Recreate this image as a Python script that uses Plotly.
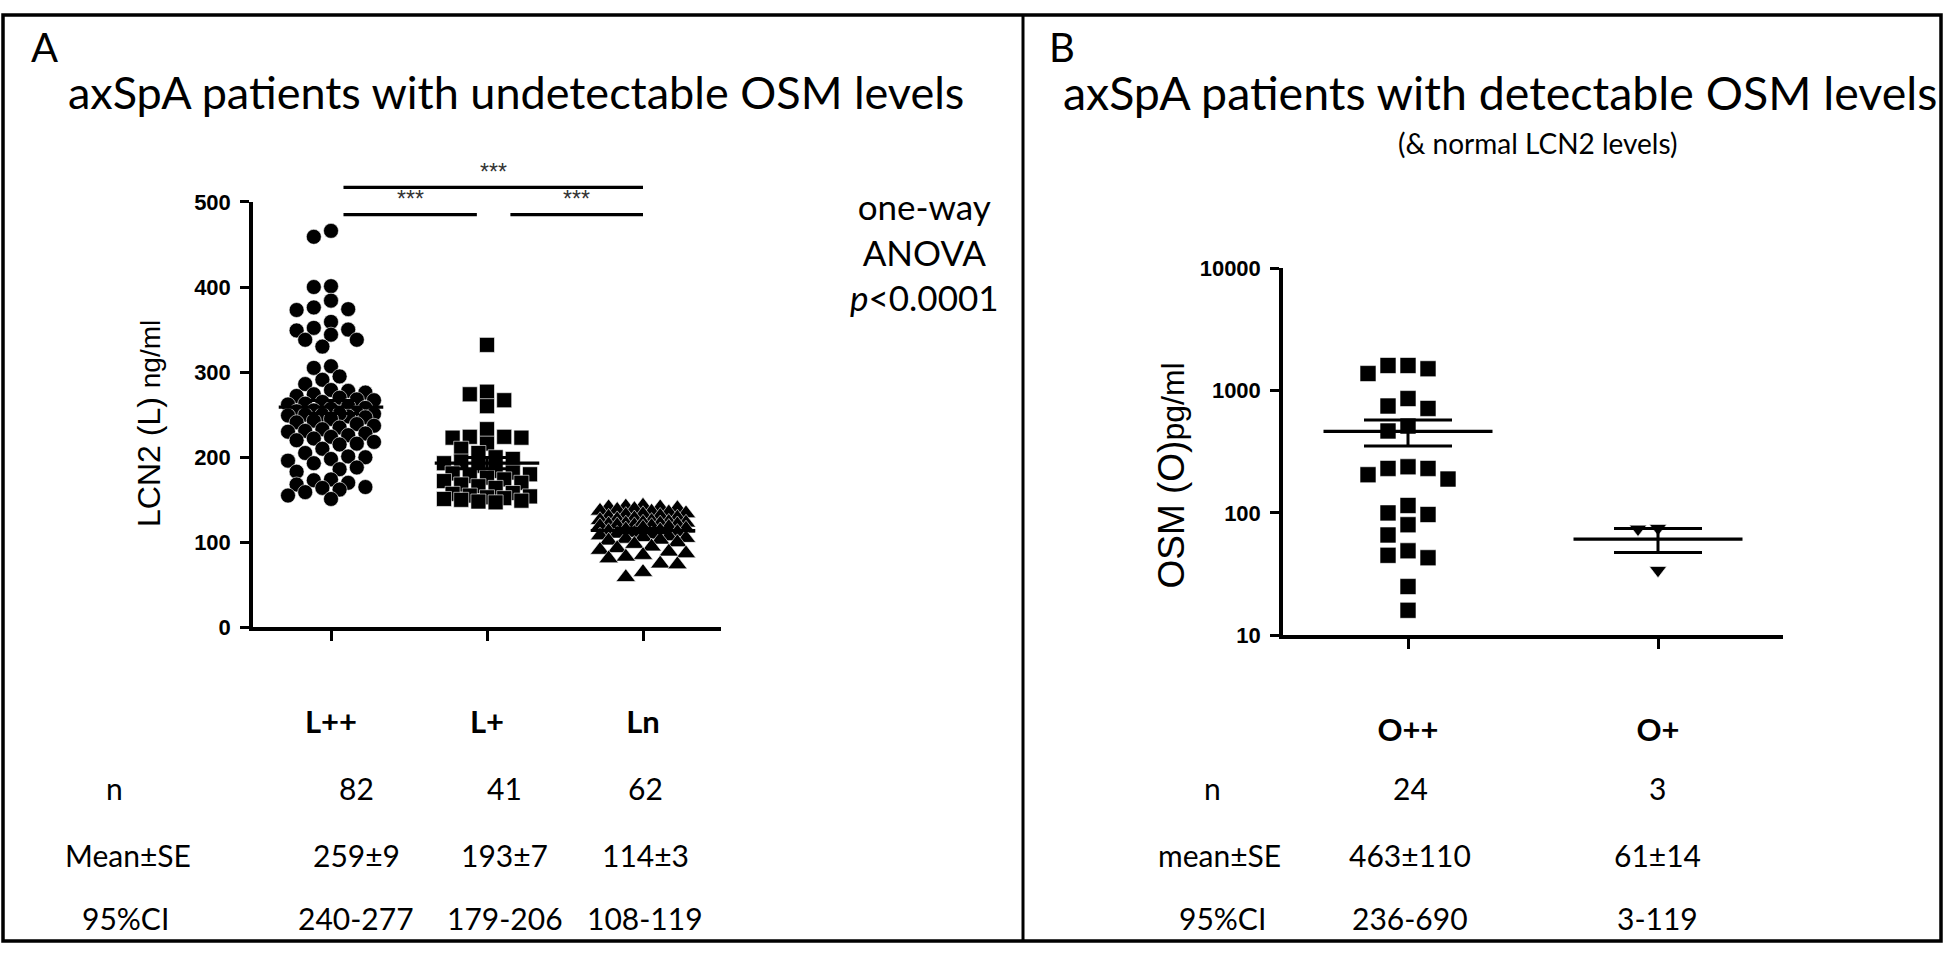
import numpy as np
import plotly.graph_objects as go

W, H = 1946, 957

# ---------------- data: panel A (LCN2, ng/ml) ----------------
cats_A = ["L++", "L+", "Ln"]
lcn2_Lpp = [466, 459, 401, 400, 384, 376, 374, 373, 359, 352, 350, 349, 344, 338, 338, 330,
            307, 305, 295, 291, 286, 279,
            278, 276, 274, 272, 270, 268, 267, 265, 263, 262, 260, 258, 257, 255, 254, 252,
            251, 250, 250, 248,
            251, 249, 247, 245, 243, 241, 239, 237, 235, 233, 231, 230, 228, 226, 224, 222,
            220, 218, 216, 215,
            210, 205, 201, 200, 198, 196, 193, 188, 186, 183, 174, 173, 170, 168, 165, 164,
            162, 159, 155, 151]
lcn2_Lp = [332, 277, 274, 267, 260, 233, 224, 224, 223, 223,
           216, 210, 205, 200, 198, 195, 193, 190, 184, 181,
           182, 180, 178, 176, 174, 172, 170, 168, 166, 164,
           158, 157, 155, 154, 153, 152, 151, 150, 149, 148, 147]
lcn2_Ln = [143, 142, 141, 141, 140, 139, 138, 137, 136, 135, 134, 133, 132, 131, 130, 129,
           128, 127, 126, 125, 124, 123, 122, 121, 120, 119,
           123, 122, 121, 120, 119, 118, 117, 116, 115, 114, 113, 112, 111, 110, 109, 108,
           107, 106, 105, 104, 103, 102,
           100, 98, 95, 93, 91, 89, 87, 85, 83, 81, 75, 74, 65, 59]
yticks_A = [0, 100, 200, 300, 400, 500]
row_labels_A = ["n", "Mean±SE", "95%CI"]
n_A = ["82", "41", "62"]
meanse_A = ["259±9", "193±7", "114±3"]
ci_A = ["240-277", "179-206", "108-119"]
sig_A = ["***", "***", "***"]
sig_pairs_A = [(0, 1), (1, 2), (0, 2)]

# ---------------- data: panel B (OSM, pg/ml) ----------------
cats_B = ["O++", "O+"]
osm_Opp = [1601, 1375, 1506, 1601, 859, 747, 714, 512, 467, 231, 205, 189,
           231, 238, 115, 100, 97, 80, 66, 49, 43, 45, 25, 16]
osm_Op = [74, 75, 34]
yticks_B = [10, 100, 1000, 10000]
row_labels_B = ["n", "mean±SE", "95%CI"]
n_B = ["24", "3"]
meanse_B = ["463±110", "61±14"]
ci_B = ["236-690", "3-119"]

# ---------------- geometry (pixels) ----------------
A_x0, A_x1, A_xr = 253, 721, [-0.5, 2.5]
A_y0, A_y1, A_yr = 632, 195, [0, 500]
B_x0, B_x1, B_xr = 1283, 1783, [-0.5, 1.5]
B_y0, B_y1, B_yr = 640, 263, [1, 4]

def fx(px):
    return px / W

def fy(py):
    return 1 - py / H

def swarm(vals, px_per_x, px_per_y, step, dmin, kmax, log=False):
    vals = np.asarray(vals, float)
    yv = np.log10(vals) if log else vals
    order = np.argsort(-yv, kind="stable")
    cand = [0]
    for k in range(1, kmax + 1):
        cand += [-k, k]
    placed = []
    offs = np.zeros(len(vals))
    for i in order:
        y = yv[i] * px_per_y
        chosen, bestx, bestd = None, 0, -1
        for c in cand:
            x = c * step
            d = min([np.hypot(x - a, y - b) for a, b in placed], default=1e9)
            if d >= dmin:
                chosen = x
                break
            if d > bestd:
                bestd, bestx = d, x
        if chosen is None:
            chosen = bestx
        placed.append((chosen, y))
        offs[i] = chosen / px_per_x
    return offs

pxA = (A_x1 - A_x0) / (A_xr[1] - A_xr[0])
pyA = (A_y0 - A_y1) / (A_yr[1] - A_yr[0])
pxB = (B_x1 - B_x0) / (B_xr[1] - B_xr[0])
pyB = (B_y0 - B_y1) / (B_yr[1] - B_yr[0])

fig = go.Figure()

groupsA = [(lcn2_Lpp, "circle", 15, 5), (lcn2_Lp, "square", 15, 5), (lcn2_Ln, "triangle-up", 17, 5)]
for i, (vals, sym, sz, kmax) in enumerate(groupsA):
    offs = swarm(vals, pxA, pyA, 8.6, 12.5, kmax)
    fig.add_trace(go.Scatter(x=i + offs, y=vals, mode="markers", xaxis="x", yaxis="y",
                             marker=dict(symbol=sym, size=sz, color="black",
                                         line=dict(color="white", width=0.6)),
                             hoverinfo="skip"))
    m = float(np.mean(vals))
    se = float(np.std(vals, ddof=1) / np.sqrt(len(vals)))
    fig.add_trace(go.Scatter(x=[i - 0.335, i + 0.335], y=[m, m], mode="lines", xaxis="x", yaxis="y",
                             line=dict(color="black", width=3.2), hoverinfo="skip"))
    fig.add_trace(go.Scatter(x=[i], y=[m], mode="markers", xaxis="x", yaxis="y",
                             marker=dict(size=1, color="rgba(0,0,0,0)"),
                             error_y=dict(type="data", array=[se], color="black", thickness=3, width=28),
                             hoverinfo="skip"))

groupsB = [(osm_Opp, "square", 16), (osm_Op, "triangle-down", 15)]
for i, (vals, sym, sz) in enumerate(groupsB):
    offs = swarm(vals, pxB, pyB, 20, 16, 2, log=True)
    fig.add_trace(go.Scatter(x=i + offs, y=vals, mode="markers", xaxis="x2", yaxis="y2",
                             marker=dict(symbol=sym, size=sz, color="black",
                                         line=dict(color="white", width=0.6)),
                             hoverinfo="skip"))
    m = float(np.mean(vals))
    se = float(np.std(vals, ddof=1) / np.sqrt(len(vals)))
    fig.add_trace(go.Scatter(x=[i - 0.338, i + 0.338], y=[m, m], mode="lines", xaxis="x2", yaxis="y2",
                             line=dict(color="black", width=3.2), hoverinfo="skip"))
    fig.add_trace(go.Scatter(x=[i], y=[m], mode="markers", xaxis="x2", yaxis="y2",
                             marker=dict(size=1, color="rgba(0,0,0,0)"),
                             error_y=dict(type="data", array=[se], color="black", thickness=3, width=44),
                             hoverinfo="skip"))

TICKF = "Liberation Sans, Arial, sans-serif"
CAL = "Lato, Carlito, Calibri, Open Sans, sans-serif"
ARIAL = "Liberation Sans, Arial, sans-serif"

def xax(domain, rng, cats, anchor):
    return dict(domain=domain, range=rng, tickvals=list(range(len(cats))), ticktext=cats,
                showline=True, linecolor="black", linewidth=3.5, ticks="outside", ticklen=10,
                tickwidth=2.5, tickcolor="black", showgrid=False, zeroline=False, anchor=anchor,
                tickfont=dict(family=CAL, size=31, color="black", weight="bold"),
                ticklabelstandoff=55, fixedrange=True)

def yax(domain, rng, tv, anchor, log=False):
    d = dict(domain=domain, range=rng, tickvals=tv, ticktext=[str(v) for v in tv],
             showline=True, linecolor="black", linewidth=3.5, ticks="outside", ticklen=9,
             tickwidth=2.5, tickcolor="black", showgrid=False, zeroline=False, anchor=anchor,
             tickfont=dict(family=TICKF, size=22, color="black", weight="bold"),
             ticklabelstandoff=5, fixedrange=True)
    if log:
        d["type"] = "log"
    return d

annotations = []
def ann(text, x, y, size, family=CAL, angle=0, color="black", **kw):
    annotations.append(dict(text=text, x=x, y=y, xref="paper", yref="paper", showarrow=False,
                            textangle=angle, font=dict(family=family, size=size, color=color),
                            xanchor="center", yanchor="middle", **kw))

# panel letters and titles
ann("A", fx(44), fy(36), 40)
ann("B", fx(1062), fy(36), 40)
ann("axSpA patients with undetectable OSM levels", fx(516), fy(82), 45)
ann("axSpA patients with detectable OSM levels", fx(1500), fy(82), 46.5)
ann("(&amp; normal LCN2 levels)", fx(1537), fy(135), 28)
ann("one-way<br>ANOVA<br><i>p</i>&lt;0.0001", fx(924), fy(246), 35, align="center")

# axis titles
ann("LCN2 (L) <span style='font-size:28px'>ng/ml</span>", fx(149), fy(423), 32, family=ARIAL, angle=-90)
ann("OSM (O)<span style='font-size:32px'>pg/ml</span>", fx(1172), fy(476), 37, family=ARIAL, angle=-90)

# summary tables under the plots
rows_y = [797, 866, 930]
col_xA = [356, 505, 645]
col_xB = [1410, 1657]
lab_xA = [114, 128, 125]
lab_xB = [1212, 1219, 1222]
TS = 30
for r, (lab, vals) in enumerate(zip(row_labels_A, [n_A, meanse_A, ci_A])):
    ann(lab, fx(lab_xA[r]), fy(rows_y[r]), TS)
    for i, v in enumerate(vals):
        ann(v, fx(col_xA[i]), fy(rows_y[r]), TS)
for r, (lab, vals) in enumerate(zip(row_labels_B, [n_B, meanse_B, ci_B])):
    ann(lab, fx(lab_xB[r]), fy(rows_y[r]), TS)
    for i, v in enumerate(vals):
        ann(v, fx(col_xB[i]), fy(rows_y[r]), TS)

# significance brackets (panel A)
def xA_paper(v):
    return fx(A_x0) + (v - A_xr[0]) / (A_xr[1] - A_xr[0]) * (fx(A_x1) - fx(A_x0))

def yA_paper(v):
    return fy(A_y0) + (v - A_yr[0]) / (A_yr[1] - A_yr[0]) * (fy(A_y1) - fy(A_y0))

shapes = []
bracket_levels = [485, 485, 517]
insets = [(0.08, 0.065), (0.15, 0.0), (0.08, 0.0)]
for (a, b), lvl, (ia, ib), s in zip(sig_pairs_A, bracket_levels, insets, sig_A):
    shapes.append(dict(type="line", xref="paper", yref="paper", x0=xA_paper(a + ia), x1=xA_paper(b - ib),
                       y0=yA_paper(lvl), y1=yA_paper(lvl), line=dict(color="black", width=3.2)))
    ann(s, xA_paper((a + ia + b - ib) / 2), yA_paper(lvl + 18), 23, family=ARIAL, color="#333")

# border and divider
shapes.append(dict(type="rect", xref="paper", yref="paper", x0=fx(3), x1=fx(1941), y0=fy(954), y1=fy(3),
                   line=dict(color="black", width=3.5)))
shapes.append(dict(type="line", xref="paper", yref="paper", x0=fx(1023), x1=fx(1023), y0=fy(954), y1=fy(3),
                   line=dict(color="black", width=3)))

fig.update_layout(
    width=W, height=H, autosize=False,
    margin=dict(l=0, r=0, t=0, b=0),
    paper_bgcolor="white", plot_bgcolor="white", showlegend=False,
    xaxis=xax([fx(A_x0), fx(A_x1)], A_xr, cats_A, "y"),
    yaxis=yax([fy(A_y0), fy(A_y1)], A_yr, yticks_A, "x"),
    xaxis2=xax([fx(B_x0), fx(B_x1)], B_xr, cats_B, "y2"),
    yaxis2=yax([fy(B_y0), fy(B_y1)], B_yr, yticks_B, "x2", log=True),
    annotations=annotations, shapes=shapes,
)

fig.write_html("out.html", config={"displayModeBar": False},
               post_script="document.body.style.margin='0px';document.body.style.overflow='hidden';")
